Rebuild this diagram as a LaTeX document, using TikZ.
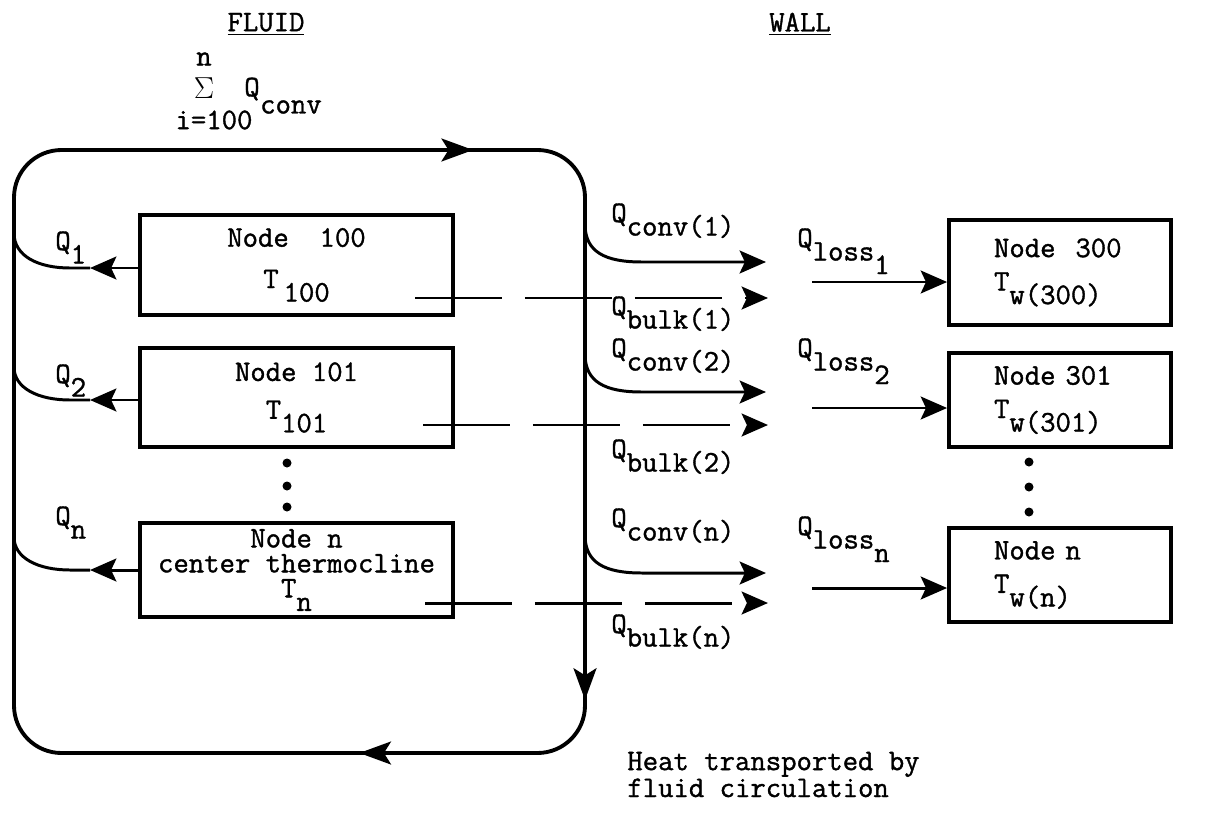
\documentclass[tikz,border=0pt]{standalone}
\usepackage{fontspec}
\setmonofont{Latin Modern Mono}[FakeBold=1.2]
\usetikzlibrary{arrows.meta,positioning,calc,decorations.markings}

\newcommand{\lo}[1]{\raisebox{-1.05ex}{#1}}

\tikzset{
  ttext/.style={font=\ttfamily\fontsize{17}{19}\selectfont},
  fluidbox/.style={draw, line width=2.2pt, minimum width=6.26cm, align=center, inner sep=0pt},
  wallbox/.style={draw, line width=2.2pt, minimum width=4.44cm, text width=2.64cm, inner xsep=0.9cm, align=left},
  flow/.style={line width=1.7pt, -{Stealth[length=15pt,width=13pt,inset=3pt]}},
  bulk/.style={flow, dash pattern=on 1.75cm off 0.45cm},
  branch/.style={line width=1.7pt},
  lbl/.style={anchor=base west, inner sep=0pt},
  circulation/.style={line width=2.2pt, rounded corners=0.95cm, postaction={decorate},
    decoration={markings,
      mark=at position 0.305 with {\arrow{Stealth[length=18pt,width=13pt,inset=4pt]}},
      mark=at position 0.588 with {\arrow{Stealth[length=18pt,width=13pt,inset=4pt]}},
      mark=at position 0.702 with {\arrow{Stealth[length=18pt,width=13pt,inset=4pt]}}}},
}

\begin{document}
\begin{tikzpicture}[x=0.02cm, y=-0.02cm, ttext]
    \useasboundingbox (0,0) rectangle (1217,818);

    % headings
    \node (fluid) at (266,24) {\underline{FLUID}};
    \node (wall) at (800,24) {\underline{WALL}};

    % sum of convected heat
    \node (sumtop) at (204,59) {n};
    \node (sumsig) at (204,88) {$\Sigma$};
    \node (sumq) at (252,89) {Q};
    \node (sumbot) at (214,120) {i=100};
    \node[anchor=west] (sumconv) at (254,107) {conv};

    % fluid circulation loop
    \draw[circulation] (14,450) -- (14,150) -- (585,150) -- (585,753) -- (14,753) -- cycle;

    % fluid nodes
    \node[fluidbox, minimum height=2.0cm] (fluidA) at (296.5,265) {Node~ 100\\[4.5pt]T\,\lo{100}};
    \node[fluidbox, minimum height=1.98cm] (fluidB) at (296.5,397.5) {Node 101\\[2.5pt]T\lo{101}};
    \node[fluidbox, minimum height=1.88cm, font=\ttfamily\fontsize{17}{14.2}\selectfont] (fluidN) at (296.5,570)
      {Node n\\center thermocline\\T\lo{n}};
    \foreach \y in {463,486,507} \fill (287,\y) circle[radius=4.5];

    % wall nodes
    \node[wallbox, minimum height=2.1cm] (wallA) at (1060,272.5) {Node~ 300\\T\lo{w(300)}};
    \node[wallbox, minimum height=1.88cm] (wallB) at (1060,400) {Node 301\\T\lo{w(301)}};
    \node[wallbox, minimum height=1.88cm] (wallN) at (1060,575) {Node n\\T\lo{w(n)}};
    \foreach \y in {462,487,512} \fill (1029,\y) circle[radius=4.5];

    % Q_i out of the fluid nodes
    \foreach \n/\y/\d in {fluidA/268/35,fluidB/400/33,fluidN/570/33} {
      \coordinate (q\n) at (90,\y);
      \draw[flow] (\n.west |- q\n) -- (q\n);
      \draw[branch] (q\n) -- (70,\y) .. controls (38,\y) and (14,\y-12) .. (14,\y-\d);
    }
    \node[lbl] (qlabA) at (55,250) {Q\lo{1}};
    \node[lbl] (qlabB) at (55,383) {Q\lo{2}};
    \node[lbl] (qlabN) at (55,525) {Q\lo{n}};

    % convection to the wall
    \foreach \y/\k in {262/A,392/B,573/N} {
      \coordinate (split\k) at (585,\y-38);
      \coordinate (conv\k) at (766,\y);
      \draw[flow] (split\k) .. controls (585,\y-10) and (605,\y) .. (642,\y) -- (conv\k);
    }
    \node[lbl] (cvlabA) at (611,222) {Q\lo{conv(1)}};
    \node[lbl] (cvlabB) at (611,357) {Q\lo{conv(2)}};
    \node[lbl] (cvlabN) at (611,527) {Q\lo{conv(n)}};

    % bulk heat (dashed)
    \foreach \y/\s/\k in {298/415/A,425/423/B,603/425/N} {
      \coordinate (bulkS\k) at (\s,\y);
      \coordinate (bulkE\k) at (768,\y);
      \draw[bulk] (bulkS\k) -- (bulkE\k);
    }
    \node[lbl] (bklabA) at (611,315) {Q\lo{bulk(1)}};
    \node[lbl] (bklabB) at (611,458) {Q\lo{bulk(2)}};
    \node[lbl] (bklabN) at (611,633) {Q\lo{bulk(n)}};

    % losses into the wall nodes
    \foreach \y/\k in {282/A,408/B,588/N} {
      \coordinate (loss\k) at (812,\y);
      \draw[flow] (loss\k) -- (wall\k.west |- loss\k);
    }
    \node[lbl] (lslabA) at (797,247) {Q\lo{loss\lo{1}}};
    \node[lbl] (lslabB) at (797,357) {Q\lo{loss\lo{2}}};
    \node[lbl] (lslabN) at (797,535) {Q\lo{loss\lo{n}}};

    % note
    \node[lbl, align=left, font=\ttfamily\fontsize{17}{15.3}\selectfont] (heat) at (627,797)
      {Heat transported by\\fluid circulation};
\end{tikzpicture}
\end{document}
